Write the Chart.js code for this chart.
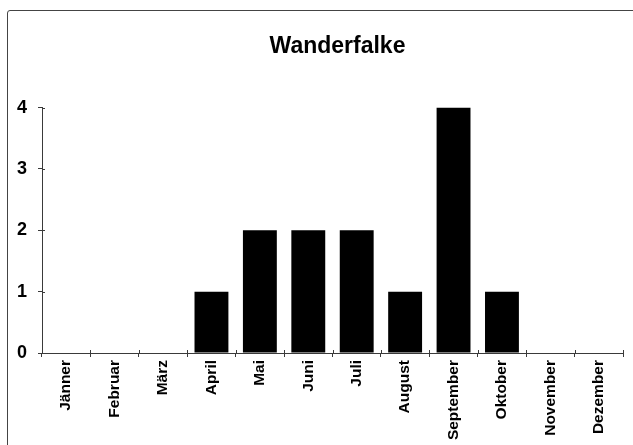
<!DOCTYPE html>
<html>
<head>
<meta charset="utf-8">
<script src="https://cdn.jsdelivr.net/npm/chart.js@4"></script>
<style>
  html, body { margin: 0; padding: 0; background: #fff; overflow: hidden; }
  #wrap { position: relative; width: 633px; height: 445px; overflow: hidden; }
  #frame {
    position: absolute; left: 7px; top: 10px; width: 700px; height: 500px;
    border: 1px solid #444; border-radius: 3px; box-sizing: border-box;
  }
  canvas { position: absolute; left: 0; top: 0; }
</style>
</head>
<body>
<div id="wrap">
  <div id="frame"></div>
  <canvas id="chart" width="675" height="445"></canvas>
</div>
<script>
"use strict";

const TITLE = "Wanderfalke";
const MONTHS = ["Jänner", "Februar", "März", "April", "Mai", "Juni", "Juli",
  "August", "September", "Oktober", "November", "Dezember"];
const COUNTS = [0, 0, 0, 1, 2, 2, 2, 1, 4, 1, 0, 0];
const Y_TICKS = [0, 1, 2, 3, 4];

const FONT = "'Liberation Sans', Arial, sans-serif";
const AXIS = "#3a3a3a";

// small inner half of the tick marks, so they cross the axis line
const crossTicks = {
  id: "crossTicks",
  afterDraw(chart) {
    const { ctx, chartArea, scales } = chart;
    ctx.save();
    ctx.strokeStyle = AXIS;
    ctx.lineWidth = 1;
    ctx.beginPath();
    for (const t of scales.y.ticks) {
      const y = Math.round(scales.y.getPixelForValue(t.value)) + 0.5;
      ctx.moveTo(chartArea.left, y);
      ctx.lineTo(chartArea.left + 3, y);
    }
    for (let i = 0; i <= MONTHS.length; i++) {
      const x = Math.round(scales.x.getPixelForValue(i - 0.5)) + 0.5;
      ctx.moveTo(x, chartArea.bottom);
      ctx.lineTo(x, chartArea.bottom - 3);
    }
    ctx.stroke();
    ctx.restore();
  },
};

new Chart(document.getElementById("chart").getContext("2d"), {
  type: "bar",
  data: {
    labels: MONTHS,
    datasets: [{
      data: COUNTS,
      backgroundColor: "#000",
      borderWidth: 0,
      categoryPercentage: 1,
      barPercentage: 0.7,
    }],
  },
  plugins: [crossTicks],
  options: {
    responsive: false,
    animation: false,
    layout: { padding: 0 },
    plugins: {
      legend: { display: false },
      tooltip: { enabled: false },
      title: {
        display: true,
        text: TITLE,
        color: "#000",
        font: { family: FONT, size: 23, weight: "bold" },
        padding: { top: 33, bottom: 47 },
      },
    },
    scales: {
      x: {
        afterFit: (axis) => { axis.height = 92; },
        grid: {
          display: true,
          drawOnChartArea: false,
          offset: true,
          tickLength: 4,
          color: AXIS,
        },
        border: { color: AXIS, width: 1 },
        ticks: {
          color: "#000",
          minRotation: 90,
          maxRotation: 90,
          autoSkip: false,
          padding: 3,
          font: { family: FONT, size: 15.5, weight: "bold" },
        },
      },
      y: {
        min: 0,
        max: 4,
        afterFit: (axis) => { axis.width = 42; },
        afterBuildTicks: (axis) => {
          axis.ticks = Y_TICKS.map((v) => ({ value: v }));
        },
        grid: {
          display: true,
          drawOnChartArea: false,
          tickLength: 4,
          color: AXIS,
        },
        border: { color: AXIS, width: 1 },
        ticks: {
          color: "#000",
          padding: 11,
          font: { family: FONT, size: 18, weight: "bold" },
        },
      },
      // empty right-hand space, so the title centres on the whole frame
      spacer: {
        position: "right",
        min: 0,
        max: 4,
        afterFit: (axis) => { axis.width = 52; },
        grid: { display: false },
        border: { display: false },
        ticks: { display: false },
      },
    },
  },
});
</script>
</body>
</html>
